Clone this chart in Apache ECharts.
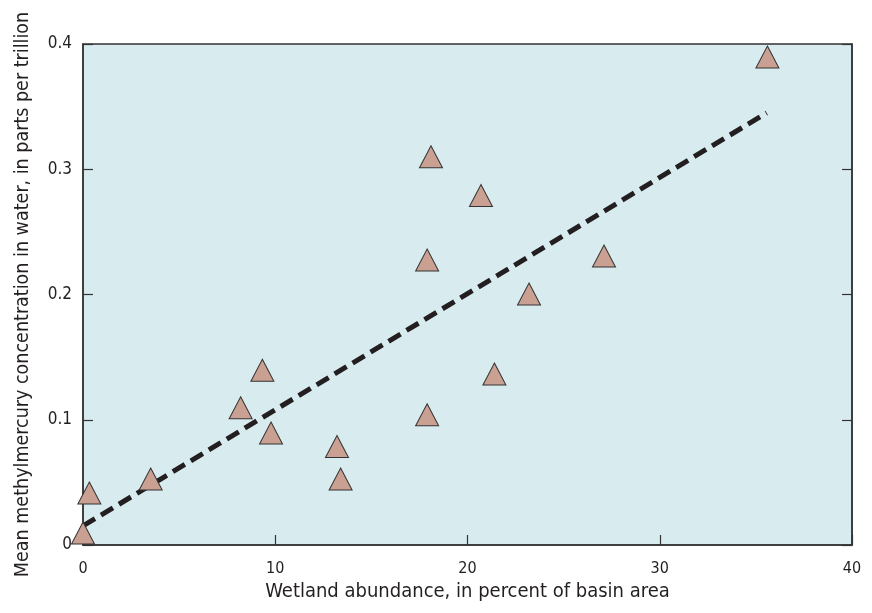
<!DOCTYPE html>
<html>
<head>
<meta charset="utf-8">
<script src="https://cdn.jsdelivr.net/npm/echarts@6/dist/echarts.min.js"></script>
<style>html,body{margin:0;padding:0;background:#fff}#c{width:872px;height:613px}</style>
</head>
<body>
<div id="c"></div>
<script>
// Wetland abundance (percent of basin area)
var wetland = [0.0, 0.33, 3.52, 8.2, 9.33, 9.78, 13.21, 13.4, 17.9, 17.9, 18.1, 20.7, 21.4, 23.2, 27.1, 35.6];
// Mean methylmercury concentration (parts per trillion)
var mehg = [0.0096, 0.0415, 0.0527, 0.1096, 0.1395, 0.0894, 0.0786, 0.0527, 0.104, 0.2275, 0.310, 0.279, 0.1365, 0.2004, 0.2307, 0.3896];
// Trend line endpoints
var trendX = [0, 35.56];
var trendY = [0.0152, 0.345];

var xTicks = [0, 10, 20, 30, 40];
var yTicks = [0, 0.1, 0.2, 0.3, 0.4];

var FONT = "'Liberation Sans Narrow', 'DejaVu Sans Condensed', 'Liberation Sans', sans-serif";
var TXT = '#231f20';

var pts = wetland.map(function (x, i) { return [x, mehg[i]]; });
var trend = trendX.map(function (x, i) { return [x, trendY[i]]; });

var chart = echarts.init(document.getElementById('c'), null, { renderer: 'canvas' });
chart.setOption({
  animation: false,
  backgroundColor: '#ffffff',
  grid: {
    left: 83, right: 20, top: 44, bottom: 68,
    show: true, backgroundColor: '#d8ebef', borderColor: '#333', borderWidth: 1.5
  },
  xAxis: {
    type: 'value', min: 0, max: 40, interval: 10,
    name: 'Wetland abundance, in percent of basin area',
    nameLocation: 'middle', nameGap: 37,
    nameTextStyle: { fontFamily: FONT, fontSize: 20, color: TXT },
    axisLine: { show: true, lineStyle: { color: '#333', width: 1.5 } },
    axisTick: { show: true, inside: true, length: 10, lineStyle: { color: '#333', width: 1.2 } },
    axisLabel: { fontFamily: FONT, fontSize: 16, color: TXT, margin: 16,
      formatter: function (v) { return xTicks.indexOf(v) >= 0 ? String(v) : ''; } },
    splitLine: { show: false }
  },
  yAxis: [{
    type: 'value', min: 0, max: 0.4, interval: 0.1,
    name: 'Mean methylmercury concentration in water, in parts per trillion',
    nameLocation: 'middle', nameGap: 50,
    nameTextStyle: { fontFamily: FONT, fontSize: 19.5, color: TXT },
    axisLine: { show: true, lineStyle: { color: '#333', width: 1.5 } },
    axisTick: { show: true, inside: true, length: 10, lineStyle: { color: '#333', width: 1.2 } },
    axisLabel: { fontFamily: FONT, fontSize: 17, color: TXT, margin: 11,
      formatter: function (v) {
        var r = Math.round(v * 10) / 10;
        return r === 0 ? '0' : String(r);
      } },
    splitLine: { show: false }
  }, {
    type: 'value', min: 0, max: 0.4, interval: 0.1, position: 'right',
    axisLine: { show: true, lineStyle: { color: '#333', width: 1.5 } },
    axisTick: { show: true, inside: true, length: 10, lineStyle: { color: '#333', width: 1.2 } },
    axisLabel: { show: false },
    splitLine: { show: false }
  }],
  series: [{
    type: 'line',
    data: trend,
    symbol: 'none',
    z: 2,
    lineStyle: { color: '#231f20', width: 5, type: [14, 7], cap: 'butt' }
  }, {
    type: 'scatter',
    data: pts,
    symbol: 'triangle',
    symbolSize: [23, 22],
    z: 3,
    itemStyle: { color: '#c9a092', borderColor: '#333', borderWidth: 1, opacity: 1 }
  }]
});
</script>
</body>
</html>
